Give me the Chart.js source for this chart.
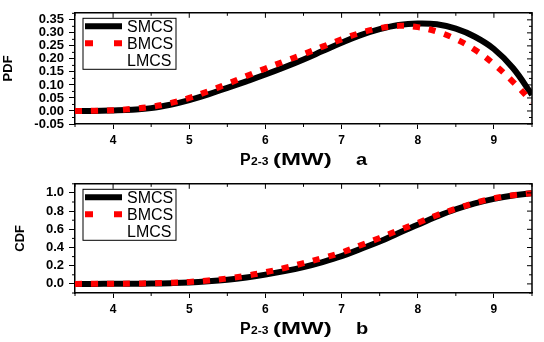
<!DOCTYPE html>
<html>
<head>
<meta charset="utf-8">
<script src="https://cdn.jsdelivr.net/npm/chart.js@4.4.1/dist/chart.umd.min.js"></script>
<style>
  body { margin: 0; background: #fff; }
  .panel { width: 544px; height: 171px; }
</style>
</head>
<body>
<div class="panel"><canvas id="chart-pdf" width="544" height="171"></canvas></div>
<div class="panel"><canvas id="chart-cdf" width="544" height="171"></canvas></div>
<script>
// P2-3 in MW, sampled every 0.25
const powerValues = [3.5, 3.75, 4.0, 4.25, 4.5, 4.75, 5.0, 5.25, 5.5, 5.75, 6.0, 6.25, 6.5,
                     6.75, 7.0, 7.25, 7.5, 7.75, 8.0, 8.25, 8.5, 8.75, 9.0, 9.25, 9.5];

const pdfSmcs = [0.000, 0.000, 0.002, 0.005, 0.011, 0.024, 0.042, 0.064, 0.089, 0.114, 0.140, 0.168, 0.198,
                 0.230, 0.262, 0.291, 0.314, 0.330, 0.336, 0.333, 0.316, 0.285, 0.238, 0.165, 0.062];
const pdfBmcs = [0.000, 0.001, 0.003, 0.008, 0.016, 0.030, 0.050, 0.076, 0.104, 0.134, 0.163, 0.191, 0.218,
                 0.247, 0.275, 0.300, 0.318, 0.327, 0.322, 0.305, 0.276, 0.235, 0.180, 0.112, 0.035];
const pdfLmcs = [0.000, 0.000, 0.002, 0.006, 0.012, 0.025, 0.044, 0.066, 0.091, 0.117, 0.143, 0.171, 0.200,
                 0.232, 0.264, 0.293, 0.315, 0.330, 0.335, 0.331, 0.313, 0.281, 0.233, 0.160, 0.055];

const cdfSmcs = [0.000, 0.000, 0.001, 0.002, 0.004, 0.008, 0.015, 0.028, 0.046, 0.071, 0.102, 0.140, 0.185,
                 0.240, 0.305, 0.385, 0.465, 0.560, 0.650, 0.740, 0.820, 0.885, 0.935, 0.972, 0.995];
const cdfBmcs = [0.000, 0.001, 0.002, 0.004, 0.007, 0.013, 0.022, 0.038, 0.060, 0.090, 0.128, 0.175, 0.228,
                 0.285, 0.345, 0.425, 0.505, 0.590, 0.670, 0.755, 0.825, 0.890, 0.940, 0.975, 0.997];
const cdfLmcs = [0.000, 0.000, 0.001, 0.002, 0.005, 0.009, 0.016, 0.030, 0.049, 0.075, 0.107, 0.146, 0.192,
                 0.248, 0.314, 0.394, 0.474, 0.567, 0.655, 0.744, 0.822, 0.887, 0.936, 0.973, 0.996];

const seriesLabels = ['SMCS', 'BMCS', 'LMCS'];

const xMajorTicks = [4, 5, 6, 7, 8, 9];
const xMinorTicks = [3.5, 4.5, 5.5, 6.5, 7.5, 8.5, 9.5];
const pdfMajorTicks = [-0.05, 0, 0.05, 0.10, 0.15, 0.20, 0.25, 0.30, 0.35];
const pdfMinorTicks = [-0.025, 0.025, 0.075, 0.125, 0.175, 0.225, 0.275, 0.325, 0.375];
const cdfMajorTicks = [0, 0.2, 0.4, 0.6, 0.8, 1.0];
const cdfMinorTicks = [-0.1, 0.1, 0.3, 0.5, 0.7, 0.9, 1.1];

const FONT = "'Liberation Sans', Arial, sans-serif";

// stretched bold text, the original labels are drawn wide
function wideText(ctx, text, x, y, size, stretch) {
    ctx.save();
    ctx.font = 'bold ' + size + 'px ' + FONT;
    ctx.translate(x, y);
    ctx.scale(stretch, 1);
    ctx.fillText(text, 0, 0);
    ctx.restore();
}

// box on top/right, minor ticks, legend box and the x label with subscript
const framePlugin = {
    id: 'frame',
    afterDraw(chart, args, opts) {
        const ctx = chart.ctx;
        const a = chart.chartArea;
        const xs = chart.scales.x;
        const ys = chart.scales.y;
        ctx.save();
        ctx.strokeStyle = '#000';
        ctx.lineWidth = 1.5;
        ctx.beginPath();
        ctx.moveTo(a.left, a.top);
        ctx.lineTo(a.right, a.top);
        ctx.lineTo(a.right, a.bottom);
        ctx.stroke();

        ctx.lineWidth = 1;
        ctx.beginPath();
        xMinorTicks.forEach(v => {
            const px = xs.getPixelForValue(v);
            ctx.moveTo(px, a.bottom); ctx.lineTo(px, a.bottom + 3);
            ctx.moveTo(px, a.top); ctx.lineTo(px, a.top + 3);
        });
        xMajorTicks.forEach(v => {
            const px = xs.getPixelForValue(v);
            ctx.moveTo(px, a.top); ctx.lineTo(px, a.top + 5);
        });
        opts.yMinor.forEach(v => {
            const py = ys.getPixelForValue(v);
            ctx.moveTo(a.left, py); ctx.lineTo(a.left - 3, py);
            ctx.moveTo(a.right, py); ctx.lineTo(a.right - 3, py);
        });
        opts.yMajor.forEach(v => {
            const py = ys.getPixelForValue(v);
            ctx.moveTo(a.right, py); ctx.lineTo(a.right - 5, py);
        });
        ctx.stroke();

        // legend
        const lx = a.left + 8, ly = a.top + 5.5;
        ctx.fillStyle = '#fff';
        ctx.fillRect(lx, ly, 93, 51);
        ctx.lineWidth = 1;
        ctx.strokeRect(lx, ly, 93, 51);
        chart.data.datasets.forEach((ds, i) => {
            const ry = ly + 8 + i * 17;
            ctx.save();
            ctx.strokeStyle = ds.borderColor;
            ctx.lineWidth = ds.borderWidth;
            ctx.setLineDash(ds.legendDash || []);
            ctx.beginPath();
            ctx.moveTo(lx + 2, ry);
            ctx.lineTo(lx + 39, ry);
            ctx.stroke();
            ctx.restore();
            ctx.fillStyle = '#000';
            ctx.font = '16px ' + FONT;
            ctx.textBaseline = 'middle';
            ctx.textAlign = 'left';
            ctx.fillText(ds.label, lx + 44, ry + 1);
        });

        // x axis label: P2-3 (MW)   a
        const by = a.bottom + 41;
        ctx.fillStyle = '#000';
        ctx.textBaseline = 'alphabetic';
        ctx.textAlign = 'left';
        wideText(ctx, 'P', 240, by, 16, 1.0);
        wideText(ctx, '2-3', 251, by, 11, 1.1);
        wideText(ctx, '(MW)', 273, by, 16, 1.5);
        wideText(ctx, opts.letter, 356, by, 16, 1.25);
        ctx.restore();
    }
};

function makeChart(canvasId, cfg) {
    const toPoints = arr => powerValues.map((x, i) => ({ x: x, y: arr[i] }));
    return new Chart(document.getElementById(canvasId).getContext('2d'), {
        type: 'line',
        data: {
            datasets: [
                { label: seriesLabels[0], data: toPoints(cfg.smcs), borderColor: '#000000', borderWidth: 6,
                  order: 1, legendDash: [] },
                { label: seriesLabels[1], data: toPoints(cfg.bmcs), borderColor: '#ff0000', borderWidth: 6,
                  borderDash: [7, 9], order: 0, legendDash: [8, 21] },
                { label: seriesLabels[2], data: toPoints(cfg.lmcs), borderColor: '#ffffff', borderWidth: 2,
                  borderDash: [2, 4], order: 2, legendDash: [2, 4] }
            ]
        },
        options: {
            responsive: false,
            animation: false,
            events: [],
            clip: 0,
            layout: { padding: { top: cfg.padTop, right: 12, left: 0, bottom: 0 } },
            elements: {
                point: { radius: 0 },
                line: { tension: 0.4, borderCapStyle: 'butt', fill: false }
            },
            plugins: {
                legend: { display: false },
                tooltip: { enabled: false },
                frame: { yMajor: cfg.yMajor, yMinor: cfg.yMinor, letter: cfg.letter }
            },
            scales: {
                x: {
                    type: 'linear',
                    min: 3.5,
                    max: 9.5,
                    afterBuildTicks: s => { s.ticks = xMajorTicks.map(v => ({ value: v })); },
                    afterFit: s => { s.height = cfg.xHeight; },
                    grid: { display: true, drawOnChartArea: false, drawTicks: true, tickLength: 5,
                            tickColor: '#000', tickWidth: 1 },
                    border: { display: true, color: '#000', width: 1.5 },
                    ticks: { color: '#000', padding: 4, maxRotation: 0, autoSkip: false,
                             font: { family: FONT, size: 12, weight: 'bold' },
                             callback: v => String(v) }
                },
                y: {
                    type: 'linear',
                    min: cfg.yMin,
                    max: cfg.yMax,
                    afterBuildTicks: s => { s.ticks = cfg.yMajor.map(v => ({ value: v })); },
                    afterFit: s => { s.width = 75; },
                    grid: { display: true, drawOnChartArea: false, drawTicks: true, tickLength: 6,
                            tickColor: '#000', tickWidth: 1 },
                    border: { display: true, color: '#000', width: 1.5 },
                    ticks: { color: '#000', padding: 5, autoSkip: false,
                             font: { family: FONT, size: 13, weight: 'bold' },
                             callback: v => v.toFixed(cfg.decimals) },
                    title: { display: true, text: cfg.yTitle, color: '#000',
                             font: { family: FONT, size: 13, weight: 'bold' },
                             padding: { top: cfg.titlePad, bottom: 0 } }
                }
            }
        },
        plugins: [framePlugin]
    });
}

makeChart('chart-pdf', {
    smcs: pdfSmcs, bmcs: pdfBmcs, lmcs: pdfLmcs,
    yMin: -0.05, yMax: 0.377, yMajor: pdfMajorTicks, yMinor: pdfMinorTicks,
    decimals: 2, yTitle: 'PDF', titlePad: 1, letter: 'a', padTop: 7, xHeight: 47
});

makeChart('chart-cdf', {
    smcs: cdfSmcs, bmcs: cdfBmcs, lmcs: cdfLmcs,
    yMin: -0.1, yMax: 1.1, yMajor: cdfMajorTicks, yMinor: cdfMinorTicks,
    decimals: 1, yTitle: 'CDF', titlePad: 13, letter: 'b', padTop: 5, xHeight: 49
});
</script>
</body>
</html>
